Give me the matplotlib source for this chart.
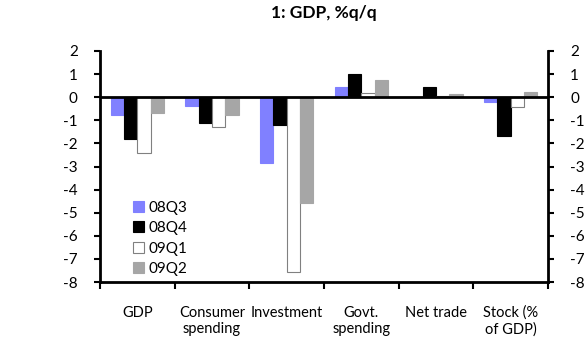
import matplotlib
matplotlib.use('Agg')
import matplotlib.pyplot as plt
import numpy as np

plt.rcParams['font.family'] = ['Lato', 'DejaVu Sans']

categories = ['GDP', 'Consumer\nspending', 'Investment', 'Govt.\nspending', 'Net trade', 'Stock (%\nof GDP)']
series_names = ['08Q3', '08Q4', '09Q1', '09Q2']
q308 = [-0.75, -0.39, -2.84, 0.46, 0.0, -0.2]
q408 = [-1.8, -1.12, -1.21, 1.01, 0.42, -1.66]
q109 = [-2.42, -1.28, -7.58, 0.2, 0.05, -0.43]
q209 = [-0.68, -0.76, -4.57, 0.75, 0.16, 0.23]
yticks = [2, 1, 0, -1, -2, -3, -4, -5, -6, -7, -8]

fills = ['#8080ff', '#000000', '#ffffff', '#a6a6a6']
edges = ['#8080ff', '#000000', '#808080', '#a6a6a6']

fig = plt.figure(figsize=(5.86, 3.45), dpi=100)
ax = fig.add_axes([100/586, 1 - 282/345, 448/586, 231/345])

x = np.arange(len(categories))
w = 0.178
for i, vals in enumerate([q308, q408, q109, q209]):
    ax.bar(x + (i - 1.5) * w, vals, w, color=fills[i], edgecolor=edges[i],
           linewidth=0.8, label=series_names[i], zorder=2)

ax.axhline(0, color='black', lw=2, zorder=3)
ax.set_xlim(-0.5, len(categories) - 0.5)
ax.set_ylim(-8, 2)

ax.set_yticks(yticks)
ax.set_yticklabels([str(t) for t in yticks])
ax.tick_params(axis='y', which='both', direction='out', length=4, width=1.5,
               labelsize=11, left=True, right=True, labelleft=True, labelright=True, pad=12)

ax.set_xticks(np.arange(len(categories) + 1) - 0.5)
ax.set_xticklabels([])
ax.set_xticks(x, minor=True)
ax.set_xticklabels(categories, minor=True, fontsize=10.5, linespacing=1.2)
ax.tick_params(axis='x', which='major', direction='out', length=5, width=1.5)
ax.tick_params(axis='x', which='minor', length=0, pad=17)
for lab in ax.get_xticklabels(minor=True):
    lab.set_verticalalignment('top')

ax.spines['top'].set_visible(False)
for s in ['left', 'right', 'bottom']:
    ax.spines[s].set_linewidth(2)

ax.legend(loc='lower left', bbox_to_anchor=(0.05, -0.02), frameon=False, fontsize=11,
          handlelength=0.7, handleheight=0.7, handletextpad=0.3, labelspacing=0.42,
          borderpad=0.2)

fig.suptitle('1: GDP, %q/q', fontsize=12.5, fontweight='bold', x=324/586, y=0.985)

fig.savefig('out.png', dpi=100)
